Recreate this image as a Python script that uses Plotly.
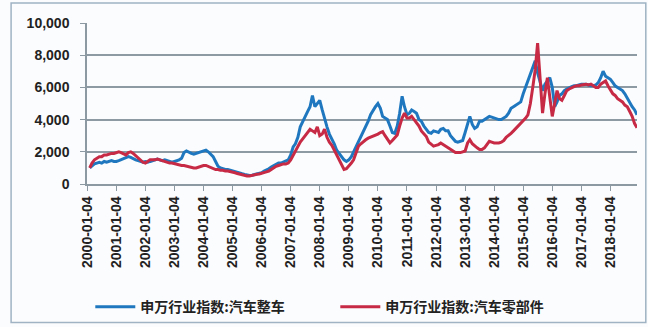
import pandas as pd
import plotly.graph_objects as go

# Monthly readings (approx.) from the reference, Jan 2000 .. Nov 2018
vehicle = (
    [1000, 1150, 1250, 1300, 1350, 1300, 1400, 1350, 1400, 1450, 1400, 1400] +  # 2000
    [1450, 1500, 1600, 1650, 1700, 1650, 1550, 1500, 1450, 1400, 1350, 1400] +  # 2001
    [1350, 1400, 1450, 1500, 1550, 1500, 1450, 1500, 1450, 1400, 1350, 1400] +  # 2002
    [1450, 1500, 1600, 1950, 2050, 1950, 1900, 1850, 1900, 1950, 2000, 2050] +  # 2003
    [2100, 2000, 1850, 1700, 1400, 1100, 1000, 950, 900, 900, 850, 800] +       # 2004
    [780, 720, 680, 640, 600, 560, 530, 550, 580, 620, 650, 700] +              # 2005
    [800, 850, 950, 1050, 1150, 1200, 1300, 1300, 1350, 1450, 1500, 1800] +     # 2006
    [2300, 2500, 2900, 3550, 3900, 4200, 4500, 4800, 5500, 4800, 5000, 5200] +  # 2007
    [4600, 4000, 3550, 3100, 2800, 2500, 2100, 1900, 1700, 1500, 1400, 1500] +  # 2008
    [1700, 2000, 2300, 2600, 2950, 3200, 3550, 3900, 4300, 4600, 4800, 5000] +  # 2009
    [4700, 4200, 4100, 4000, 3600, 3200, 3150, 3600, 4400, 5450, 4800, 4300] +  # 2010
    [4400, 4600, 4500, 4400, 4000, 3900, 3600, 3400, 3200, 3150, 3300, 3250] +  # 2011
    [3200, 3400, 3450, 3300, 3300, 3000, 2800, 2650, 2600, 2650, 2700, 3200] +  # 2012
    [3800, 4200, 3700, 3450, 3550, 3900, 3900, 4000, 4100, 4200, 4150, 4100] +  # 2013
    [4050, 4000, 4000, 4100, 4200, 4400, 4700, 4800, 4900, 5000, 5100, 5600] +  # 2014
    [6000, 6400, 6850, 7200, 7650, 6900, 6400, 5800, 6200, 6400, 6600, 6000] +  # 2015
    [4800, 5100, 5500, 5600, 5800, 5900, 6000, 6050, 6100, 6100, 6150, 6200] +  # 2016
    [6200, 6200, 6150, 6100, 6100, 6150, 6300, 6600, 7000, 6700, 6600, 6500] +  # 2017
    [6300, 6100, 6000, 5900, 5800, 5600, 5300, 5000, 4800, 4600, 4300]          # 2018
)
parts = (
    [1000, 1300, 1500, 1600, 1700, 1700, 1800, 1800, 1850, 1900, 1900, 1950] +  # 2000
    [2000, 1950, 1850, 1800, 1950, 2000, 1900, 1750, 1600, 1450, 1350, 1300] +  # 2001
    [1400, 1500, 1500, 1500, 1550, 1500, 1450, 1400, 1350, 1300, 1300, 1250] +  # 2002
    [1200, 1200, 1150, 1150, 1100, 1100, 1050, 1000, 1000, 1050, 1100, 1150] +  # 2003
    [1150, 1100, 1000, 950, 900, 900, 850, 850, 800, 800, 780, 750] +           # 2004
    [700, 650, 600, 550, 520, 500, 500, 550, 580, 600, 620, 650] +              # 2005
    [700, 750, 800, 900, 1000, 1100, 1150, 1200, 1250, 1250, 1300, 1500] +      # 2006
    [1800, 2000, 2300, 2600, 2800, 3000, 3200, 3400, 3300, 3200, 3550, 3000] +  # 2007
    [3100, 3400, 2900, 2600, 2400, 2100, 1800, 1500, 1200, 900, 950, 1100] +    # 2008
    [1300, 1500, 2000, 2350, 2500, 2650, 2750, 2850, 2900, 3000, 3050, 3100] +  # 2009
    [3200, 3250, 3000, 2800, 2550, 2700, 2900, 3050, 3600, 4100, 4400, 4100] +  # 2010
    [4100, 4200, 4000, 3800, 3600, 3300, 3100, 2950, 2600, 2450, 2350, 2400] +  # 2011
    [2450, 2550, 2450, 2300, 2200, 2150, 2050, 1950, 1950, 1950, 2000, 2050] +  # 2012
    [2550, 2750, 2500, 2350, 2250, 2150, 2150, 2250, 2450, 2650, 2600, 2550] +  # 2013
    [2550, 2550, 2600, 2700, 2900, 3000, 3150, 3300, 3450, 3600, 3750, 3900] +  # 2014
    [4100, 4300, 5000, 6000, 7100, 8750, 6200, 4400, 5600, 6600, 5400, 4200] +  # 2015
    [5000, 5800, 5300, 5200, 5500, 5800, 5900, 6000, 6050, 6100, 6100, 6150] +  # 2016
    [6200, 6200, 6150, 6200, 6100, 6000, 6000, 6200, 6300, 6400, 6100, 5800] +  # 2017
    [5600, 5500, 5300, 5200, 5100, 4900, 4800, 4500, 4200, 3750, 3500]          # 2018
)
dates = pd.date_range("2000-01-04", periods=len(vehicle), freq="MS") + pd.Timedelta(days=3)

tick_dates = [f"{y}-01-04" for y in range(2000, 2019)]
y_ticks = [0, 2000, 4000, 6000, 8000, 10000]
y_labels = ["0", "2,000", "4,000", "6,000", "8,000", "10,000"]

name_vehicle = "申万行业指数:汽车整车"
name_parts = "申万行业指数:汽车零部件"
blue = "#1f78bf"
red = "#c62a45"

fig = go.Figure()
fig.add_trace(go.Scatter(x=dates, y=vehicle, mode="lines", name=name_vehicle,
                         line=dict(color=blue, width=3)))
fig.add_trace(go.Scatter(x=dates, y=parts, mode="lines", name=name_parts,
                         line=dict(color=red, width=3)))

fig.update_layout(
    width=648, height=327,
    margin=dict(l=87, r=11, t=23, b=143, autoexpand=False),
    paper_bgcolor="#fbfcfd", plot_bgcolor="#fbfcfd",
    font=dict(family="Liberation Sans, Arial, sans-serif", color="#222222"),
    showlegend=True,
    legend=dict(orientation="h", x=0.006, xanchor="left", y=-0.665, yanchor="top",
                font=dict(family="Noto Sans CJK SC", size=14, weight="bold", color="#222222"),
                itemwidth=40, entrywidth=190, entrywidthmode="pixels",
                bgcolor="rgba(0,0,0,0)"),
    shapes=[dict(type="rect", xref="paper", yref="paper", x0=-0.138, x1=1.016, y0=-0.86, y1=1.125,
                 line=dict(color="#9fb3c4", width=1.5), fillcolor="rgba(0,0,0,0)", layer="below")],
)
fig.update_xaxes(
    type="date",
    range=["2000-01-01", dates[-1]],
    tickvals=tick_dates, ticktext=tick_dates,
    tickangle=-90,
    tickfont=dict(size=14, weight="bold", color="#222222"),
    showgrid=False, automargin=False,
    showline=True, linecolor="#8c99a3", linewidth=1.5,
    ticks="outside", ticklen=5, tickcolor="#8c99a3",
)
fig.update_yaxes(
    range=[0, 10000], automargin=False,
    tickvals=y_ticks, ticktext=y_labels,
    tickfont=dict(size=14, weight="bold", color="#222222"),
    showgrid=True, gridcolor="#8e9aa3", gridwidth=1.5,
    showline=True, linecolor="#8c99a3", linewidth=1.5,
    ticks="outside", ticklen=5, tickcolor="#8c99a3",
    ticklabelstandoff=8,
    zeroline=False,
)

fig.write_html("out.html")
